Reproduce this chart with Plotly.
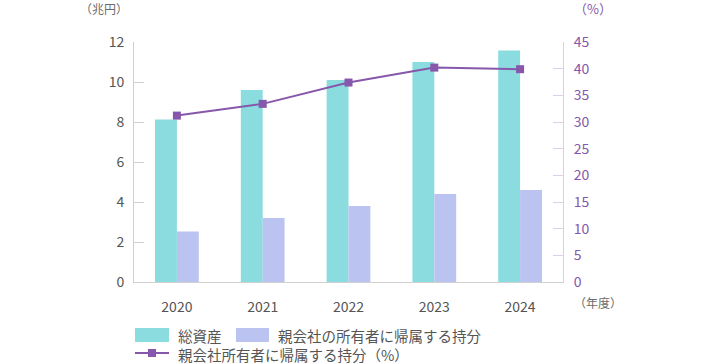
import plotly.graph_objects as go

years = ["2020", "2021", "2022", "2023", "2024"]
total_assets = [8.13, 9.6, 10.1, 11.0, 11.58]
equity = [2.53, 3.2, 3.8, 4.4, 4.6]
equity_ratio = [31.2, 33.4, 37.4, 40.2, 39.9]

left_ticks = [0, 2, 4, 6, 8, 10, 12]
right_ticks = [0, 5, 10, 15, 20, 25, 30, 35, 40, 45]

FONT = "Noto Sans CJK JP"
TEAL = "#8ADCDF"
LAV = "#BBC3F0"
PURPLE = "#8657AA"
GREY = "#555555"
LGREY = "#6a6a6a"

fig = go.Figure()
fig.add_trace(go.Bar(x=years, y=total_assets, marker=dict(color=TEAL, line=dict(width=0)),
                     name="総資産", yaxis="y"))
fig.add_trace(go.Bar(x=years, y=equity, marker=dict(color=LAV, line=dict(width=0)),
                     name="親会社の所有者に帰属する持分", yaxis="y"))
fig.add_trace(go.Scatter(x=years, y=equity_ratio, mode="lines+markers",
                         line=dict(color=PURPLE, width=2),
                         marker=dict(symbol="square", size=8, color=PURPLE),
                         name="親会社所有者に帰属する持分（%）", yaxis="y2"))

W, H = 704, 364
# target plot area in window pixels: x 134..563, y 42..282
PX0, PX1, PY0, PY1 = 134, 563, 42, 282
L, R, T, B = PX0, W - PX1, PY0, H - PY1
pw = PX1 - PX0
ph = PY1 - PY0

def px(x):
    return (x - PX0) / pw

def py(y):
    return (PY1 - y) / ph

fig.update_layout(
    width=W, height=H,
    margin=dict(l=L, r=R, t=T, b=B, pad=0),
    paper_bgcolor="white", plot_bgcolor="white",
    barmode="group", bargap=0.49, bargroupgap=0,
    showlegend=False,
    font=dict(family=FONT, color=GREY, size=14),
    xaxis=dict(range=[-0.5, 4.5], showgrid=False, showline=True, linecolor="#d0d0d0",
               linewidth=1, ticks="", tickfont=dict(size=14, color=GREY),
               ticklabelstandoff=12, zeroline=False),
    yaxis=dict(range=[0, 12], tickvals=left_ticks, showgrid=False, zeroline=False,
               showline=True, linecolor="#d0d0d0", linewidth=1,
               ticks="inside", ticklen=10, tickcolor="#d0d0d0",
               tickfont=dict(size=14, color=GREY), ticklabelstandoff=6),
    yaxis2=dict(range=[0, 45], tickvals=right_ticks, overlaying="y", side="right",
                showgrid=False, zeroline=False, showline=True, linecolor="#DCCFE8",
                linewidth=1, ticks="inside", ticklen=10, tickcolor="#DCCFE8",
                tickfont=dict(size=14, color=PURPLE), ticklabelstandoff=7),
)

annots = [
    dict(text="（兆円）", x=px(78), y=py(8), xanchor="left", color=LGREY, size=12),
    dict(text="（%）", x=px(572), y=py(8), xanchor="left", color=PURPLE, size=13),
    dict(text="（年度）", x=px(572), y=py(302), xanchor="left", color=LGREY, size=12),
    dict(text="総資産", x=px(176), y=py(335), xanchor="left", color=GREY, size=14.5),
    dict(text="親会社の所有者に帰属する持分", x=px(276), y=py(335), xanchor="left", color=GREY, size=14.5),
    dict(text="親会社所有者に帰属する持分（%）", x=px(176), y=py(354), xanchor="left", color=GREY, size=14.5),
]
for a in annots:
    fig.add_annotation(text=a["text"], x=a["x"], y=a["y"], xref="paper", yref="paper",
                       xanchor=a["xanchor"], yanchor="middle", showarrow=False,
                       font=dict(family=FONT, size=a["size"], color=a["color"]))

fig.add_shape(type="rect", xref="paper", yref="paper", x0=px(135), x1=px(169),
              y0=py(328), y1=py(342), fillcolor=TEAL, line=dict(width=0))
fig.add_shape(type="rect", xref="paper", yref="paper", x0=px(236), x1=px(269),
              y0=py(328), y1=py(342), fillcolor=LAV, line=dict(width=0))
fig.add_shape(type="line", xref="paper", yref="paper", x0=px(135), x1=px(169),
              y0=py(353), y1=py(353), line=dict(color=PURPLE, width=2))
fig.add_shape(type="rect", xref="paper", yref="paper", x0=px(148), x1=px(156),
              y0=py(349), y1=py(357), fillcolor=PURPLE, line=dict(width=0))

fig.write_html("out.html", config={"displayModeBar": False},
               post_script="document.body.style.margin='0';document.body.style.overflow='hidden';")
